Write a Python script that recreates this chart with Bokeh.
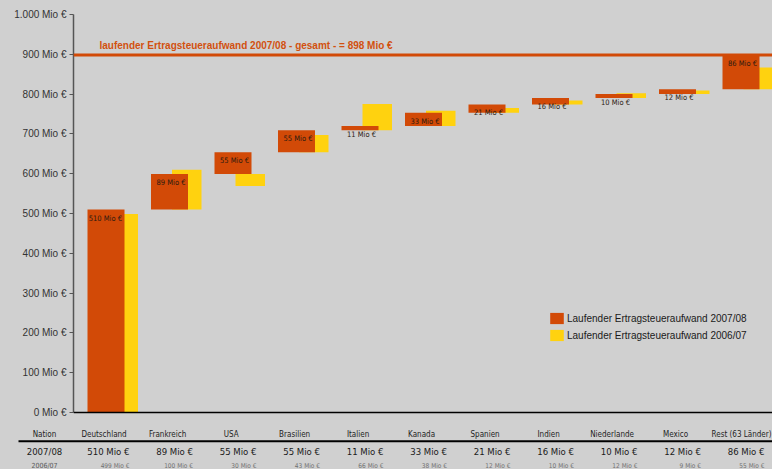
from bokeh.plotting import figure
from bokeh.models import (Range1d, FixedTicker, Span, Legend, LegendItem,
                          ColumnDataSource, GlobalInlineStyleSheet)
from bokeh.layouts import column
from bokeh.core.properties import value
from bokeh.embed import file_html
from bokeh.resources import INLINE

# ---------------- data ----------------
nations = ["Deutschland", "Frankreich", "USA", "Brasilien", "Italien", "Kanada",
           "Spanien", "Indien", "Niederlande", "Mexico", "Rest (63 Länder)"]
tax_0708 = [510, 89, 55, 55, 11, 33, 21, 16, 10, 12, 86]
tax_0607 = [499, 100, 30, 43, 66, 38, 12, 10, 12, 9, 55]
# start level of each 2006/07 bar
base_0607 = [0, 510, 569, 654, 709, 720, 753, 774, 790, 800, 812]
y_ticks = [0, 100, 200, 300, 400, 500, 600, 700, 800, 900, 1000]
y_tick_labels = ["0 Mio €", "100 Mio €", "200 Mio €", "300 Mio €", "400 Mio €",
                 "500 Mio €", "600 Mio €", "700 Mio €", "800 Mio €", "900 Mio €",
                 "1.000 Mio €"]
row_labels = ["Nation", "2007/08", "2006/07"]
series_labels = ["Laufender Ertragsteueraufwand 2007/08",
                 "Laufender Ertragsteueraufwand 2006/07"]

total_0708 = sum(tax_0708)
title_text = f"laufender Ertragsteueraufwand 2007/08 - gesamt - = {total_0708} Mio €"

# ---------------- styling ----------------
BG = "#d0d0d0"
ORANGE = "#d24a07"
YELLOW = "#ffd20f"
SANS = value("Liberation Sans")
NARROW = value("Liberation Sans Narrow, DejaVu Sans Condensed, Roboto, sans-serif")

W = 772
TOP_H = 420
TAB_H = 49
LEFT = 73           # frame left (px)
PX_CAT = 63.5       # pixels per category
CAT0 = 105.5        # px of first orange bar centre
PX_UNIT = 0.398     # pixels per Mio €
ZERO = 412          # px of 0 Mio €

def fx(px):
    return (px - CAT0) / PX_CAT

def fy(px):
    return (ZERO - px) / PX_UNIT

cum_top, cum_bot = [], []
run = 0
for v in tax_0708:
    cum_bot.append(run)
    run += v
    cum_top.append(run)

xs = list(range(len(nations)))
src = ColumnDataSource(dict(
    x=xs,
    x2=[x + 17.25 / PX_CAT for x in xs],
    bot=cum_bot, top=cum_top,
    ybot=base_0607, ytop=[b + v for b, v in zip(base_0607, tax_0607)],
    lab=[f"{v} Mio €" for v in tax_0708],
    lx=[x + (18.5 - 2.5) / PX_CAT for x in xs],
    ly=[t - 8.5 / PX_UNIT for t in cum_top],
))

p = figure(width=W, height=TOP_H, output_backend="svg", toolbar_location=None,
           x_range=Range1d(fx(LEFT), fx(W)), y_range=Range1d(fy(TOP_H - 6), fy(0)),
           x_axis_location=None, min_border_left=LEFT, min_border_right=0,
           min_border_top=0, min_border_bottom=6,
           background_fill_color=BG, border_fill_color=BG, outline_line_color=None)
p.frame_align = False
p.grid.visible = False
p.stylesheets = [GlobalInlineStyleSheet(css=f"html, body {{ background-color: {BG}; }}")]

ax = p.yaxis[0]
ax.ticker = FixedTicker(ticks=y_ticks)
ax.major_label_overrides = {t: l for t, l in zip(y_ticks, y_tick_labels)}
ax.bounds = (0, 1000)
ax.axis_line_color = "#555555"
ax.axis_line_width = 1.5
ax.major_tick_line_color = "#555555"
ax.major_tick_out = 4
ax.major_tick_in = 0
ax.minor_tick_line_color = None
ax.major_label_standoff = 3
ax.major_label_text_font = "Liberation Sans"
ax.major_label_text_font_size = "10px"
ax.major_label_text_color = "#333333"

r_y = p.vbar(x="x2", width=29.5 / PX_CAT, bottom="ybot", top="ytop", source=src,
             fill_color=YELLOW, line_color=None)
r_o = p.vbar(x="x", width=37 / PX_CAT, bottom="bot", top="top", source=src,
             fill_color=ORANGE, line_color=None)

p.text(x="lx", y="ly", text="lab", source=src, text_align="right",
       text_baseline="middle", text_font=NARROW, text_font_size="7.5px",
       text_color="#2b1a10")

p.add_layout(Span(location=0, dimension="width", line_color="black", line_width=1.5))
p.add_layout(Span(location=total_0708, dimension="width", line_color=ORANGE, line_width=3))
p.text(x=[fx(99)], y=[fy(45)], text=[title_text], text_align="left",
       text_baseline="middle", text_font=SANS, text_font_size="10px",
       text_font_style="bold", text_color="#d2500f")

legend = Legend(items=[LegendItem(label=series_labels[0], renderers=[r_o]),
                       LegendItem(label=series_labels[1], renderers=[r_y])],
                location=(475, 72), glyph_width=17, glyph_height=14, label_height=14,
                spacing=3, padding=0, margin=0, label_standoff=2,
                background_fill_alpha=0, border_line_alpha=0,
                label_text_font="Liberation Sans", label_text_font_size="10px",
                label_text_color="#1a1a1a")
p.add_layout(legend)

# ---------------- table below ----------------
t = figure(width=W, height=TAB_H, output_backend="svg", toolbar_location=None,
           x_range=Range1d(fx(0), fx(W)), y_range=Range1d(TAB_H, 0),
           x_axis_location=None, y_axis_location=None,
           min_border_left=0, min_border_right=0, min_border_top=0, min_border_bottom=0,
           background_fill_color=BG, border_fill_color=BG, outline_line_color=None)
t.frame_align = False
t.grid.visible = False

lab_x = fx(44)
t.text(x=[lab_x] + [x - 0.03 for x in xs[:-1]], y=[13.5] * len(xs),
       text=[row_labels[0]] + nations[:-1], text_align="center", text_baseline="middle",
       text_font=NARROW, text_font_size="8px", text_color="#1e1e1e")
t.text(x=[fx(W - 1)], y=[13.5], text=[nations[-1]], text_align="right",
       text_baseline="middle", text_font=NARROW, text_font_size="8px",
       text_color="#1e1e1e")
t.segment(x0=[fx(18)], y0=[20.7], x1=[fx(W)], y1=[20.7], line_color="black", line_width=2)
t.text(x=[lab_x], y=[31], text=[row_labels[1]], text_align="center",
       text_baseline="middle", text_font=NARROW, text_font_size="9.5px",
       text_color="#1a1a1a")
t.text(x=[x + 0.37 for x in xs], y=[31] * len(xs), text=[f"{v} Mio €" for v in tax_0708],
       text_align="right", text_baseline="middle", text_font=NARROW,
       text_font_size="9.5px", text_color="#1a1a1a")
t.text(x=[lab_x], y=[45], text=[row_labels[2]], text_align="center",
       text_baseline="middle", text_font=NARROW, text_font_size="7px",
       text_color="#5a5a5a")
t.text(x=[x + 0.37 for x in xs], y=[45] * len(xs), text=[f"{v} Mio €" for v in tax_0607],
       text_align="right", text_baseline="middle", text_font=NARROW,
       text_font_size="6.5px", text_color="#707070")

layout = column(p, t, spacing=0)
open("out.html", "w").write(file_html(layout, INLINE))
